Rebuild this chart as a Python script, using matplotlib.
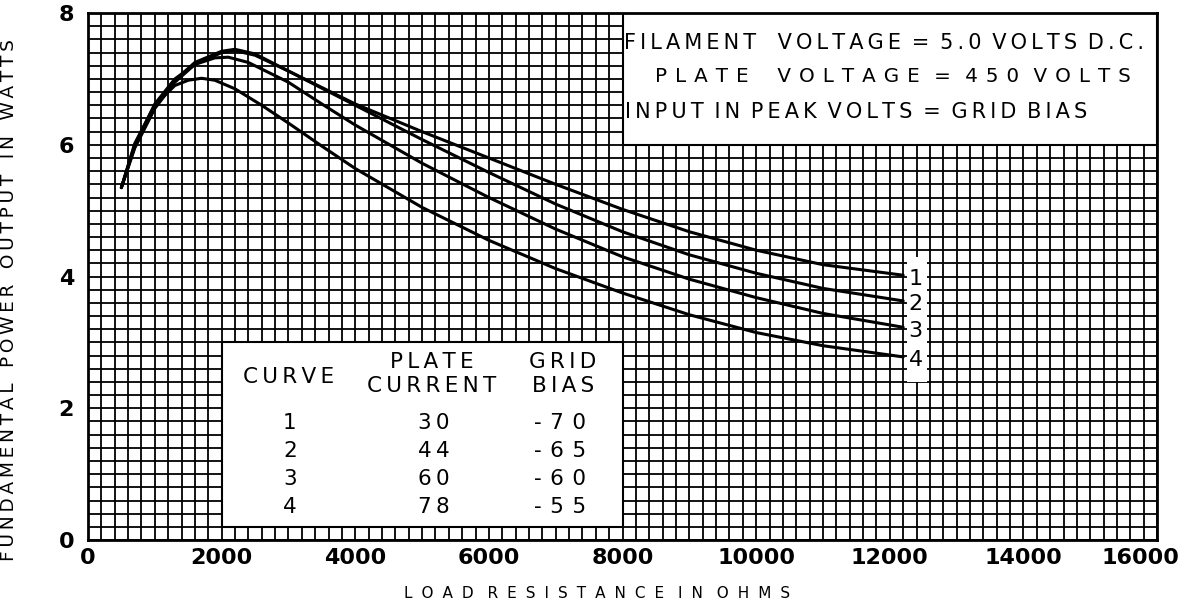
import numpy as np
import matplotlib
matplotlib.use("Agg")
import matplotlib.pyplot as plt
from matplotlib.patches import Rectangle
from matplotlib.transforms import ScaledTranslation

# load resistance (ohms) and power output (watts)
x1 = [500, 700, 1000, 1300, 1600, 2000, 2200, 2500, 3000, 3500, 4000, 5000, 6000, 7000, 8000, 9000, 10000, 11000, 12200]
y1 = [5.35, 5.95, 6.55, 6.95, 7.22, 7.40, 7.43, 7.36, 7.12, 6.87, 6.62, 6.20, 5.80, 5.40, 5.02, 4.68, 4.40, 4.18, 4.02]
x2 = [500, 700, 1000, 1300, 1600, 2000, 2200, 2500, 3000, 3500, 4000, 5000, 6000, 7000, 8000, 9000, 10000, 11000, 12200]
y2 = [5.35, 5.97, 6.58, 6.98, 7.25, 7.42, 7.45, 7.38, 7.12, 6.86, 6.60, 6.08, 5.58, 5.10, 4.68, 4.33, 4.05, 3.82, 3.63]
x3 = [500, 700, 1000, 1300, 1600, 1900, 2100, 2400, 3000, 3500, 4000, 5000, 6000, 7000, 8000, 9000, 10000, 11000, 12200]
y3 = [5.35, 6.00, 6.62, 7.00, 7.22, 7.32, 7.33, 7.25, 6.95, 6.62, 6.30, 5.72, 5.20, 4.72, 4.30, 3.96, 3.68, 3.44, 3.23]
x4 = [500, 700, 1000, 1300, 1500, 1700, 1900, 2200, 2600, 3000, 3500, 4000, 5000, 6000, 7000, 8000, 9000, 10000, 11000, 12200]
y4 = [5.35, 6.02, 6.60, 6.90, 6.98, 7.01, 6.98, 6.85, 6.60, 6.33, 5.98, 5.64, 5.05, 4.55, 4.12, 3.75, 3.42, 3.15, 2.95, 2.78]
curve_labels = ["1", "2", "3", "4"]

table_curve = ["1", "2", "3", "4"]
table_current = ["30", "44", "60", "78"]
table_bias = ["-70", "-65", "-60", "-55"]

TS = "\u2009"  # thin space, used for the wide letter spacing of the original


def spaced(s, n=1, wgap=" "):
    words = s.split(" ")
    return (wgap + TS * n).join((TS * n).join(w) for w in words)


fig = plt.figure(figsize=(11.95, 6.05), dpi=100)
ax = fig.add_axes([0.0736, 0.1074, 0.8947, 0.871])

ax.set_xlim(0, 16000)
ax.set_ylim(0, 8)
ax.set_xticks(np.arange(0, 16001, 2000))
ax.set_yticks(np.arange(0, 9, 2))
ax.set_xticks(np.arange(0, 16001, 200), minor=True)
ax.set_yticks(np.arange(0, 8.01, 0.2), minor=True)
ax.grid(which="both", color="black", linewidth=1.3)
ax.set_axisbelow(True)
ax.tick_params(which="both", length=0)
ax.tick_params(axis="x", labelsize=16, pad=6)
ax.tick_params(axis="y", labelsize=16, pad=10)
for lab in ax.get_xticklabels() + ax.get_yticklabels():
    lab.set_fontweight("bold")
for sp in ax.spines.values():
    sp.set_linewidth(2)

# last x tick label sits a little left of its tick, as in the original
last = ax.xaxis.get_major_ticks()[-1].label1
last.set_transform(last.get_transform() + ScaledTranslation(-0.17, 0, fig.dpi_scale_trans))

for xs, ys in [(x1, y1), (x2, y2), (x3, y3), (x4, y4)]:
    ax.plot(xs, ys, color="black", linewidth=2.2, zorder=3, solid_capstyle="round")

# white strip behind curve numbers
ax.add_patch(Rectangle((12250, 2.4), 300, 1.9, facecolor="white", edgecolor="none", zorder=2))
for lab, ys in zip(curve_labels, [y1, y2, y3, y4]):
    ax.text(12280, ys[-1] - 0.05, lab, fontsize=16, va="center", ha="left", zorder=4)

# top right conditions box
ax.add_patch(Rectangle((8000, 6.0), 8000, 2.0, facecolor="white", edgecolor="black", linewidth=1.5, zorder=2))
ax.text(8020, 7.54, spaced("FILAMENT  VOLTAGE = 5.0 VOLTS D.C."), fontsize=15, va="center", ha="left", zorder=4)
ax.text(8480, 7.03, spaced("PLATE  VOLTAGE = 450 VOLTS", 2), fontsize=14.3, va="center", ha="left", zorder=4)
ax.text(8040, 6.50, spaced("INPUT IN PEAK VOLTS = GRID BIAS"), fontsize=15, va="center", ha="left", zorder=4)

# table box
ax.add_patch(Rectangle((2000, 0.2), 6000, 2.8, facecolor="white", edgecolor="black", linewidth=1.5, zorder=2))
ax.text(3000, 2.47, spaced("CURVE"), fontsize=15.5, va="center", ha="center", zorder=4)
ax.text(5150, 2.52, spaced("PLATE") + "\n" + spaced("CURRENT"), fontsize=15.5, va="center", ha="center",
        linespacing=1.2, zorder=4)
ax.text(7110, 2.52, spaced("GRID") + "\n" + spaced("BIAS"), fontsize=15.5, va="center", ha="center",
        linespacing=1.2, zorder=4)
for i in range(4):
    yy = 1.77 - i * 0.425
    ax.text(3020, yy, table_curve[i], fontsize=15.5, va="center", ha="center", zorder=4)
    ax.text(5170, yy, spaced(table_current[i]), fontsize=15.5, va="center", ha="center", zorder=4)
    ax.text(7070, yy, spaced(table_bias[i], 2), fontsize=15.5, va="center", ha="center", zorder=4)

ax.set_xlabel(spaced("LOAD RESISTANCE IN OHMS", 3), fontsize=11)
ax.xaxis.set_label_coords(0.476, -0.088)
ax.set_ylabel(spaced("FUNDAMENTAL POWER OUTPUT IN WATTS", 1, "  "), fontsize=13.3)
ax.yaxis.set_label_coords(-0.065, 0.455)

fig.savefig("out.png", dpi=100)
